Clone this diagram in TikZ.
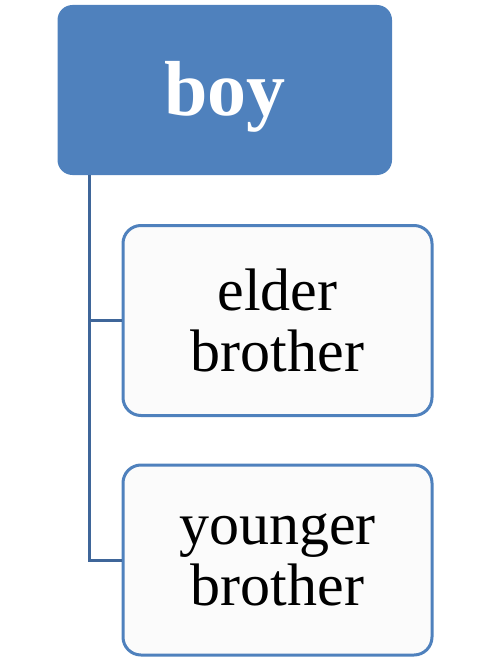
\documentclass[tikz,border=0pt]{standalone}
\usepackage{fontspec}
\setmainfont{Liberation Serif}
\definecolor{topblue}{HTML}{4F81BD}
\definecolor{edgeblue}{HTML}{4F81BD}
\definecolor{linkblue}{HTML}{3F6699}
\definecolor{childfill}{HTML}{FBFBFB}
\tikzset{
  topbox/.style={rectangle, rounded corners=15pt, fill=topblue, draw=none,
    minimum width=334.5pt, minimum height=170pt, inner sep=0pt,
    text height=50pt, text depth=0pt,
    text=white, font=\fontsize{78}{80}\selectfont\bfseries},
  childbox/.style={rectangle, rounded corners=18pt, fill=childfill, draw=edgeblue,
    line width=3pt, minimum width=309pt, minimum height=190pt, inner sep=0pt,
    align=center, font=\fontsize{60}{61}\selectfont},
  link/.style={draw=linkblue, line width=3pt}
}
\begin{document}
\begin{tikzpicture}[x=1pt,y=1pt]
\useasboundingbox (0,0) rectangle (487,-661);
\node[topbox] (top) at (224.75,-90) {boy};
\node[childbox] (b1) at (277.5,-320.5) {elder\\brother};
\node[childbox] (b2) at (277.5,-560) {younger\\brother};
\coordinate (spine) at (89.5,-175);
\draw[link] (spine) |- (b1.west);
\draw[link] (spine) |- (b2.west);
\end{tikzpicture}
\end{document}
